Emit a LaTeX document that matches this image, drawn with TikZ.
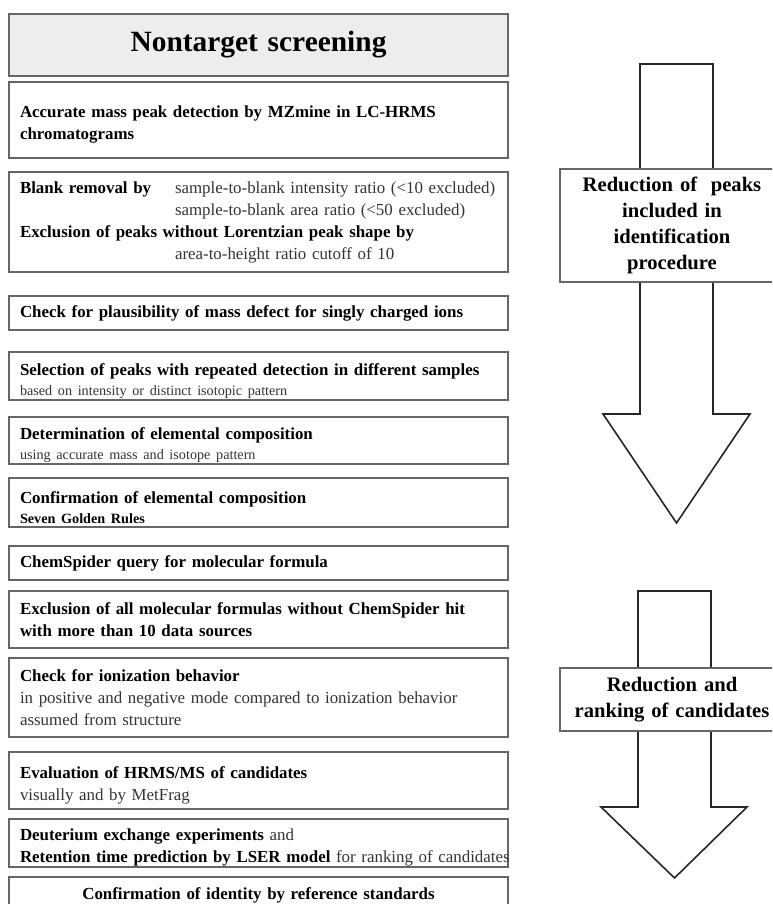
\documentclass[tikz,border=0pt]{standalone}
\usepackage{fontspec}
\setmainfont{Liberation Serif}
\usepackage{xcolor}
\usepackage{tikz}

\newcommand{\stepfont}{\fontsize{16.9}{22}\selectfont}
\newcommand{\subfont}{\fontsize{14.2}{18}\selectfont}
\newcommand{\plain}[1]{{\mdseries\color{black!80}#1}}
\newcommand{\lowstrut}[1]{\rule{0pt}{#1}}

\begin{document}
\begin{tikzpicture}[x=1pt, y=-1pt,
    stepbox/.style={rectangle, draw=black!60, line width=1.3pt, anchor=north west, outer sep=0pt,
        text width=477pt, inner xsep=11pt, inner ysep=0pt, align=left, font=\stepfont\bfseries},
    titlebox/.style={stepbox, fill=black!7, align=center, font=\fontsize{29.4}{34}\selectfont\bfseries},
    tagbox/.style={rectangle, draw=black!60, line width=1.3pt, fill=white, minimum width=224pt,
        text width=215pt, align=center, font=\fontsize{20.6}{26}\selectfont\bfseries},
    bigarrow/.style={draw=black!85, line width=1.6pt, fill=white, line join=miter}
]
\useasboundingbox (0,0) rectangle (772,904);
\clip (0,0) rectangle (772,904);

% Procedure steps
\node[titlebox, minimum height=62pt] (title) at (9,14) {Nontarget screening};
\node[stepbox, minimum height=76pt] (detect) at (9,82) {\lowstrut{21pt}Accurate mass peak detection by MZmine in LC-HRMS\\chromatograms};
\node[stepbox, minimum height=100pt] (blank) at (9,172) {\mbox{\makebox[155pt][l]{Blank removal by}\plain{sample-to-blank intensity ratio (<10 excluded)}}\\
    \hspace*{155pt}\plain{sample-to-blank area ratio (<50 excluded)}\\
    Exclusion of peaks without Lorentzian peak shape by\\
    \hspace*{155pt}\plain{area-to-height ratio cutoff of 10}};
\node[stepbox, minimum height=34pt] (defect) at (9,296) {Check for plausibility of mass defect for singly charged ions};
\node[stepbox, minimum height=48pt] (repeat) at (9,352) {\lowstrut{22pt}Selection of peaks with repeated detection in different samples\\[-2pt]
    \plain{\subfont based on intensity or distinct isotopic pattern}};
\node[stepbox, minimum height=47pt] (elemdet) at (9,417) {\lowstrut{22pt}Determination of elemental composition\\[-2pt]
    \plain{\subfont using accurate mass and isotope pattern}};
\node[stepbox, minimum height=49pt] (elemconf) at (9,478) {\lowstrut{22pt}Confirmation of elemental composition\\[-2pt]
    {\subfont Seven Golden Rules}};
\node[stepbox, minimum height=34pt] (query) at (9,546) {ChemSpider query for molecular formula};
\node[stepbox, minimum height=57pt] (sources) at (9,591) {Exclusion of all molecular formulas without ChemSpider hit\\with more than 10 data sources};
\node[stepbox, minimum height=79pt] (ionize) at (9,658) {Check for ionization behavior\\
    \plain{in positive and negative mode compared to ionization behavior}\\
    \plain{assumed from structure}};
\node[stepbox, minimum height=57pt] (msms) at (9,752) {\lowstrut{21pt}Evaluation of HRMS/MS of candidates\\
    \plain{visually and by MetFrag}};
\node[stepbox, minimum height=48pt] (ranking) at (9,819) {\lowstrut{21pt}Deuterium exchange experiments \plain{and}\\
    \mbox{Retention time prediction by LSER model \plain{for ranking of candidates}}};
\node[stepbox, align=center, minimum height=36pt] (standards) at (9,877) {Confirmation of identity by reference standards};

% Big arrows
\draw[bigarrow] (640,64) -- (713,64) -- (713,414) -- (750,414) -- (676.5,523) -- (603,414) -- (640,414) -- cycle;
\draw[bigarrow] (638,591) -- (711,591) -- (711,807) -- (747,807) -- (674.5,878) -- (601,807) -- (638,807) -- cycle;

% Arrow labels
\node[tagbox, minimum height=113pt] (peaklabel) at (672,225.5) {Reduction of~ peaks\\included in\\identification\\procedure};
\node[tagbox, minimum height=63pt] (candlabel) at (672,699.5) {Reduction and\\ranking of candidates};

\end{tikzpicture}
\end{document}
